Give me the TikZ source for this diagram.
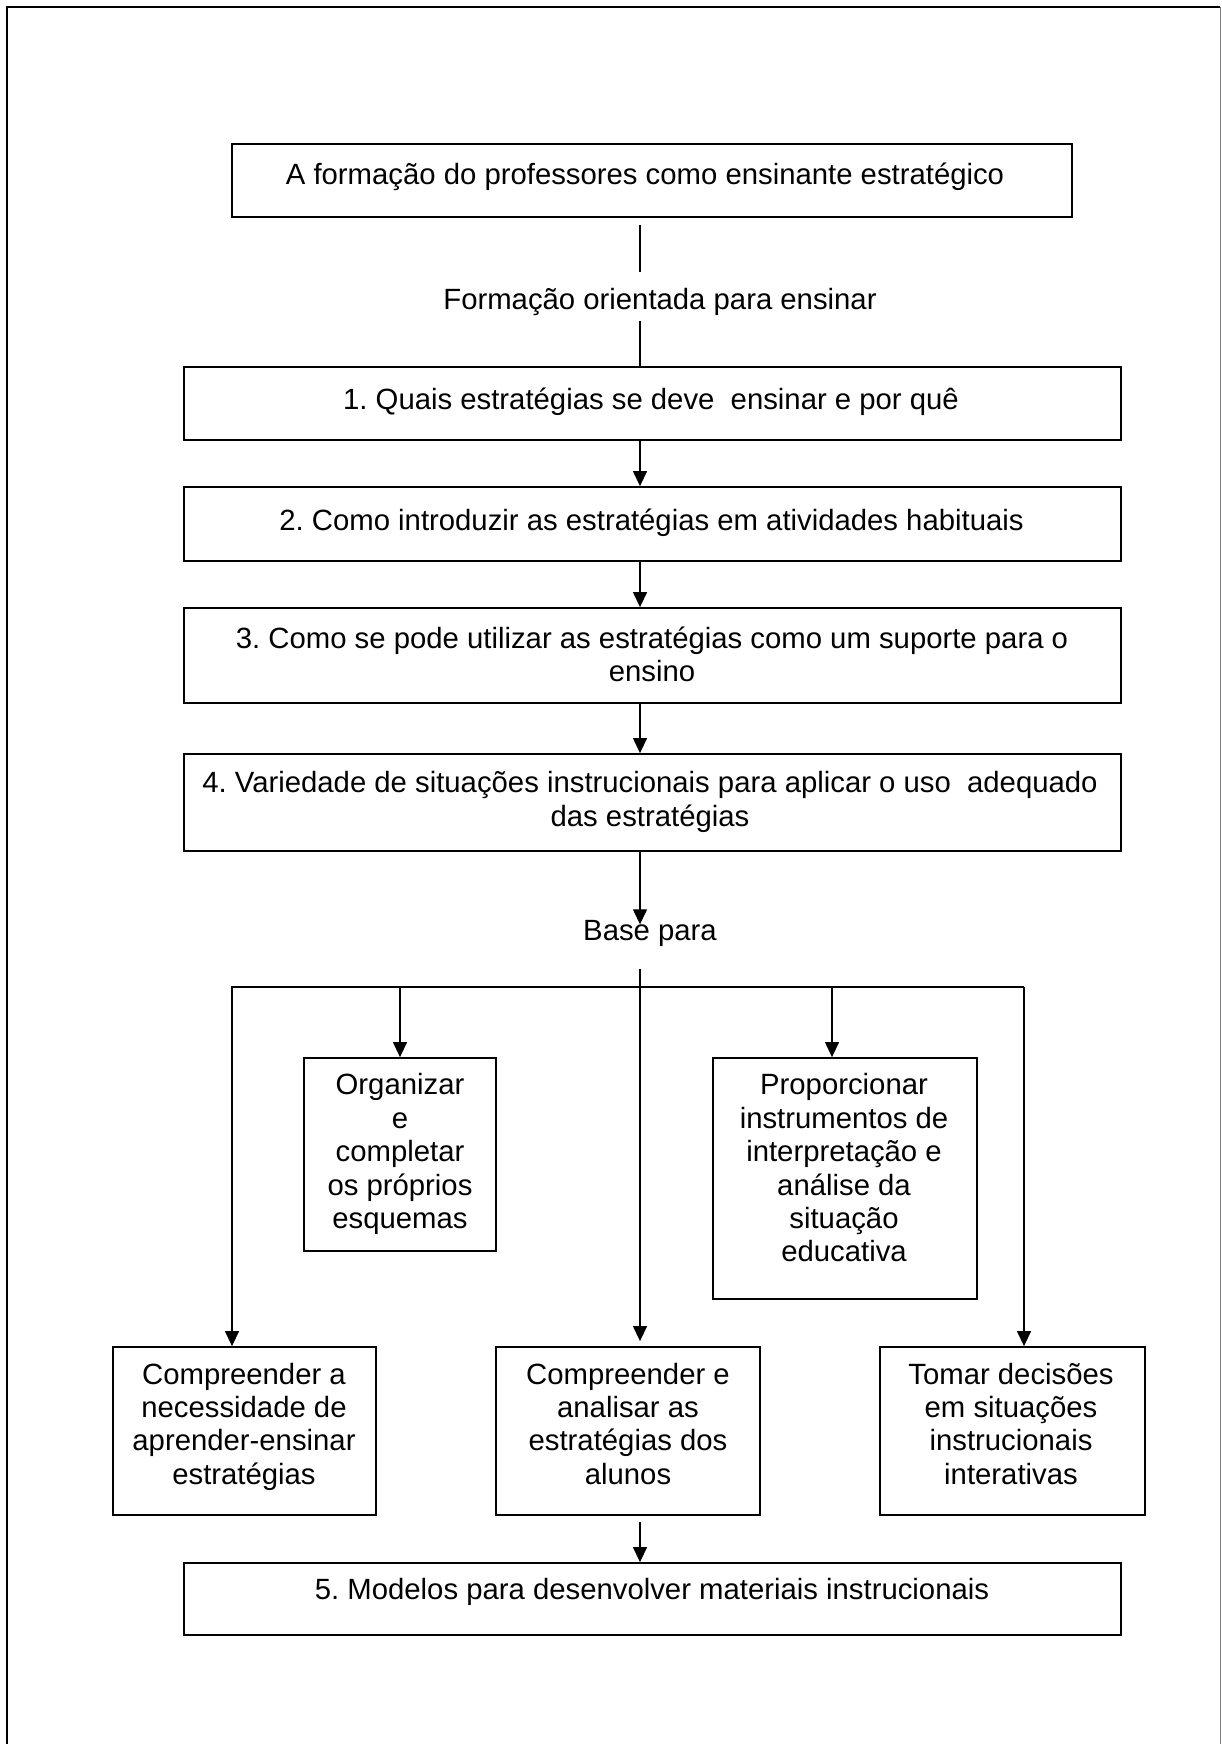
\documentclass[tikz,border=0pt]{standalone}
\usepackage{fontspec}
\setmainfont{Liberation Sans}
\usetikzlibrary{arrows.meta,calc}
% zero-width strut that fixes the height and depth of every text line
\newcommand\lnstrut{\rule[-8pt]{0pt}{35pt}}
\begin{document}
\frenchspacing
\begin{tikzpicture}[x=1pt,y=-1pt,
  boxframe/.style={draw, line width=1.8pt, inner sep=0pt},
  txt/.style={inner sep=0pt, align=center,
    font=\fontsize{29.3}{33.4}\selectfont,
    execute at begin node=\lnstrut, execute at end node=\lnstrut},
  link/.style={line width=1.3pt},
  arr/.style={line width=1.3pt, -{Triangle[length=15pt,width=14pt]}}]

\useasboundingbox (0,0) rectangle (1221,1744);

% page frame
\draw[line width=1.8pt] (6.7,1744) -- (6.7,6.7) -- (1220,6.7);
\draw[line width=1pt, gray] (1220,6.7) -- (1220,1744);

% vertical spine of the chart
\coordinate (spine) at (640,0);

% main column of boxes
\node[boxframe, minimum width=840, minimum height=73] (bA) at (652,180.5) {};
\node[txt] (tA) at (645,175) {A formação do professores como ensinante estratégico};

\node[txt] (tF) at (660,300) {Formação orientada para ensinar};

\node[boxframe, minimum width=937, minimum height=73] (b1) at (652.5,403.5) {};
\node[txt] (t1) at (651,400) {1. Quais estratégias se deve~~ensinar e por quê};

\node[boxframe, minimum width=937, minimum height=74] (b2) at (652.5,524) {};
\node[txt] (t2) at (651.5,521) {2. Como introduzir as estratégias em atividades habituais};

\node[boxframe, minimum width=937, minimum height=95] (b3) at (652.5,655.5) {};
\node[txt] (t3) at (652,658.5) {3. Como se pode utilizar as estratégias como um suporte para o\\ensino};

\node[boxframe, minimum width=937, minimum height=97] (b4) at (652.5,802.5) {};
\node[txt] (t4) at (650,803) {4. Variedade de situações instrucionais para aplicar o uso~~adequado\\das estratégias};

\node[txt] (tB) at (650,931) {Base para};

% second level boxes
\node[boxframe, minimum width=192, minimum height=193] (bO) at (400,1154.5) {};
\node[txt] (tO) at (400,1155) {Organizar\\e\\completar\\os próprios\\esquemas};

\node[boxframe, minimum width=264, minimum height=241] (bP) at (845,1178.5) {};
\node[txt] (tP) at (844,1171.8) {Proporcionar\\instrumentos de\\interpretação e\\análise da\\situação\\educativa};

% third level boxes
\node[boxframe, minimum width=263, minimum height=168] (bL) at (244.5,1431) {};
\node[txt] (tL) at (244,1427.5) {Compreender a\\necessidade de\\aprender-ensinar\\estratégias};

\node[boxframe, minimum width=264, minimum height=168] (bM) at (628,1431) {};
\node[txt] (tM) at (628,1427.5) {Compreender e\\analisar as\\estratégias dos\\alunos};

\node[boxframe, minimum width=265, minimum height=168] (bR) at (1012.5,1431) {};
\node[txt] (tR) at (1011,1427.5) {Tomar decisões\\em situações\\instrucionais\\interativas};

% final box
\node[boxframe, minimum width=937, minimum height=72] (b5) at (652.5,1599) {};
\node[txt] (t5) at (652,1590) {5. Modelos para desenvolver materiais instrucionais};

% connectors of the main column
\draw[link] ($(bA.south -| spine)+(0,7)$) -- ($(tF.north -| spine)+(0,-10)$);
\draw[link] ($(tF.south -| spine)+(0,3)$) -- (b1.north -| spine);
\draw[arr] (b1.south -| spine) -- (b2.north -| spine);
\draw[arr] (b2.south -| spine) -- (b3.north -| spine);
\draw[arr] (b3.south -| spine) -- (b4.north -| spine);
\draw[arr] (b4.south -| spine) -- ($(tB.north -| spine)+(0,11)$);

% branching bar below "Base para"
\coordinate (hubL) at (232,987);
\coordinate (hubR) at (1024,987);
\coordinate (brO) at (400,987);
\coordinate (brP) at (832,987);
\draw[arr, line join=miter] (hubR) -- (hubL) -- (hubL |- bL.north);
\draw[arr] (hubR) -- (hubR |- bR.north);
\draw[arr] (brO) -- (brO |- bO.north);
\draw[arr] (brP) -- (brP |- bP.north);
\draw[arr] ($(tB.south -| spine)+(0,20)$) -- ($(bM.north -| spine)+(0,-5)$);

% into the final box
\draw[arr] ($(bM.south -| spine)+(0,6)$) -- (b5.north -| spine);

\end{tikzpicture}
\end{document}
